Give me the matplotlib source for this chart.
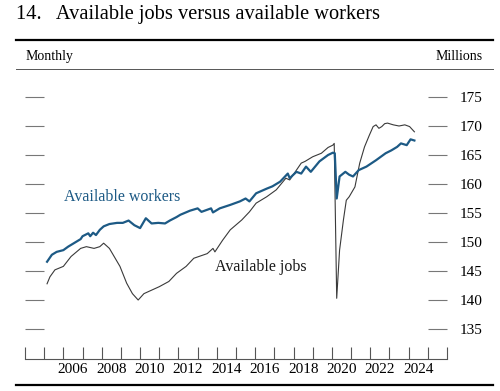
import matplotlib
matplotlib.use("Agg")
import matplotlib.pyplot as plt
from matplotlib.lines import Line2D

plt.rcParams['font.family'] = ['Liberation Serif', 'DejaVu Serif']

# decimal years and values (millions)
worker_years = [2005.15, 2005.4, 2005.65, 2006.0, 2006.25, 2006.6, 2006.9, 2007.0,
                2007.3, 2007.4, 2007.55, 2007.7, 2007.9, 2008.1, 2008.4, 2008.8,
                2009.1, 2009.4, 2009.7, 2010.0, 2010.3, 2010.6, 2010.95, 2011.3,
                2011.55, 2011.9, 2012.1, 2012.6, 2013.0, 2013.2, 2013.7, 2013.8,
                2014.15, 2014.7, 2015.2, 2015.5, 2015.7, 2016.05, 2016.6, 2016.9,
                2017.3, 2017.7, 2017.8, 2018.15, 2018.4, 2018.65, 2018.9, 2019.35,
                2019.8, 2020.05, 2020.15, 2020.25, 2020.4, 2020.7, 2020.9, 2021.1,
                2021.4, 2021.8, 2022.3, 2022.8, 2023.1, 2023.4, 2023.6, 2023.9,
                2024.1, 2024.3]
workers = [146.6, 147.8, 148.3, 148.6, 149.2, 149.9, 150.5, 151.0,
           151.5, 151.0, 151.6, 151.2, 152.1, 152.7, 153.1, 153.3,
           153.3, 153.7, 152.9, 152.4, 154.1, 153.2, 153.3, 153.2,
           153.7, 154.3, 154.7, 155.4, 155.8, 155.2, 155.8, 155.1,
           155.8, 156.4, 157.0, 157.5, 157.0, 158.4, 159.2, 159.6,
           160.4, 161.8, 161.0, 162.1, 161.8, 163.0, 162.1, 163.9,
           165.0, 165.4, 165.3, 157.5, 161.3, 162.1, 161.6, 161.3,
           162.4, 163.0, 164.1, 165.3, 165.8, 166.4, 167.0, 166.7,
           167.7, 167.5]

job_years = [2005.15, 2005.3, 2005.56, 2006.0, 2006.4, 2006.9, 2007.2, 2007.6,
             2007.9, 2008.1, 2008.4, 2008.95, 2009.3, 2009.6, 2009.9, 2010.2,
             2010.6, 2011.0, 2011.5, 2011.9, 2012.4, 2012.8, 2013.5, 2013.8,
             2013.9, 2014.3, 2014.7, 2015.3, 2015.7, 2016.05, 2016.6, 2017.1,
             2017.6, 2017.8, 2018.4, 2018.6, 2019.0, 2019.45, 2019.8, 2020.05,
             2020.12, 2020.25, 2020.4, 2020.6, 2020.75, 2020.9, 2021.2, 2021.45,
             2021.7, 2021.95, 2022.15, 2022.3, 2022.45, 2022.6, 2022.75, 2022.9,
             2023.2, 2023.5, 2023.8, 2024.05, 2024.3]
jobs = [142.8, 144.0, 145.2, 145.8, 147.5, 148.9, 149.2, 148.9,
        149.2, 149.8, 148.9, 145.8, 142.9, 141.1, 140.0, 141.1,
        141.7, 142.3, 143.2, 144.6, 145.8, 147.2, 148.0, 148.9,
        148.3, 150.3, 152.1, 153.8, 155.2, 156.7, 157.8, 159.0,
        161.0, 160.7, 163.6, 163.9, 164.7, 165.3, 166.3, 166.7,
        167.0, 140.3, 148.6, 153.8, 157.2, 157.8, 159.5, 163.6,
        166.4, 168.4, 169.9, 170.2, 169.6, 169.9, 170.4, 170.5,
        170.2, 170.0, 170.2, 169.9, 169.0]

year_ticks = list(range(2004, 2027))
year_labels = [str(y) for y in range(2006, 2025, 2)]
value_ticks = [135, 140, 145, 150, 155, 160, 165, 170, 175]

blue = '#1d5a85'

fig = plt.figure(figsize=(5, 3.91), dpi=100)
ax = fig.add_axes([0.05, 0.0818, 0.844, 0.7136])

ax.plot(job_years, jobs, color='#3a3a3a', lw=0.8)
ax.plot(worker_years, workers, color=blue, lw=1.6)

ax.set_xlim(2004, 2026)
ax.set_ylim(129.83, 177.93)

for side in ['top', 'left', 'right']:
    ax.spines[side].set_visible(False)
ax.spines['bottom'].set_color('#555555')
ax.spines['bottom'].set_linewidth(0.8)

ax.set_xticks(year_ticks)
ax.set_xticklabels([])
ax.set_xticks([int(y) + 0.5 for y in year_labels], minor=True)
ax.set_xticklabels(year_labels, minor=True)
ax.tick_params(axis='x', which='major', direction='in', length=8.6,
               width=0.8, color='#555555')
ax.tick_params(axis='x', which='minor', length=0, labelsize=11, pad=3)

ax.set_yticks(value_ticks)
ax.tick_params(axis='y', direction='in', length=13.7, width=0.8,
               color='#777777', left=True, right=True,
               labelleft=False, labelright=True, labelsize=11, pad=9)

ax.text(2006.03, 157.8, 'Available workers', color=blue, fontsize=11.5,
        va='center', ha='left')
ax.text(2013.9, 145.7, 'Available jobs', color='#1a1a1a', fontsize=11.5,
        va='center', ha='left')

fig.text(0.032, 0.962, '14.   Available jobs versus available workers',
         fontsize=14.7, va='center', ha='left')
fig.text(0.052, 0.855, 'Monthly', fontsize=10, va='center', ha='left')
fig.text(0.966, 0.855, 'Millions', fontsize=10, va='center', ha='right')

fig.add_artist(Line2D([0.032, 0.986], [0.898, 0.898], color='black', lw=1.6))
fig.add_artist(Line2D([0.032, 0.986], [0.824, 0.824], color='#555555', lw=0.7))
fig.add_artist(Line2D([0.032, 0.986], [0.015, 0.015], color='black', lw=1.6))

fig.savefig('out.png', dpi=100)
